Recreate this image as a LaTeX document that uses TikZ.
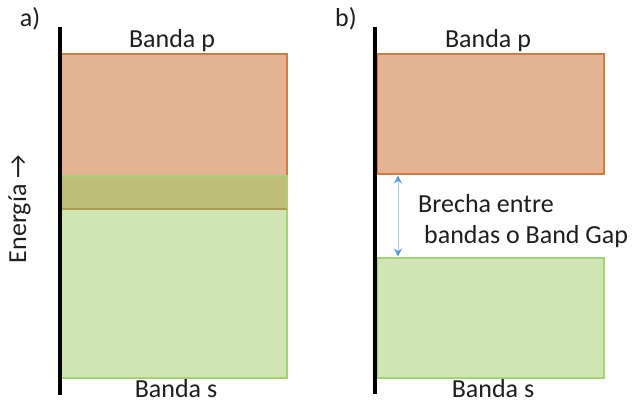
\documentclass[tikz,border=0pt]{standalone}
\usepackage{fontspec}
\setmainfont{Carlito}
\usetikzlibrary{arrows.meta,calc}
\definecolor{ofill}{HTML}{E4B394}
\definecolor{oline}{HTML}{D47A44}
\definecolor{gfill}{HTML}{CFE6B4}
\definecolor{gline}{HTML}{A3D373}
\definecolor{olive}{HTML}{BEBE78}
\definecolor{oliveline}{HTML}{B09A50}
\definecolor{gapline}{HTML}{A9CBEA}
\definecolor{gaptip}{HTML}{5B9BD5}
\definecolor{txt}{HTML}{1E1E1E}
\begin{document}
\begin{tikzpicture}[x=1pt,y=-1pt,
  lbl/.style={font=\fontsize{26}{30}\selectfont, text=txt, inner sep=0pt},
  band/.style={rectangle, inner sep=0pt, outer sep=0pt, anchor=north west, line width=1.2pt},
  pband/.style={band, fill=ofill, draw=oline},
  sband/.style={band, fill=gfill, draw=gline},
  axis/.style={line width=3.5pt, black},
  gaparrow/.style={gapline, line width=1pt, {Stealth[length=8pt,width=8pt,gaptip]}-{Stealth[length=8pt,width=8pt,gaptip]}}]
\useasboundingbox (0,0) rectangle (635,404);
% panel a
\node[pband, minimum width=226pt, minimum height=155pt] (pa) at (61,54) {};
\node[sband, minimum width=226pt, minimum height=202pt] (sa) at (61,176) {};
\node[band, fill=olive, minimum width=225pt, minimum height=32pt] (ov) at (61.5,176.5) {};
\draw[gline, line width=1.2pt] (sa.north west) -- (sa.north east);
\draw[oliveline, line width=1.6pt] (pa.south west) -- (pa.south east);
\coordinate (axa1) at (60,27);
\coordinate (axa2) at (60,395);
\draw[axis] (axa1) -- (axa2);
\node[lbl] (la) at (30,19) {a)};
\node[lbl, anchor=base] (bpa) at (172,48) {Banda p};
\node[lbl, anchor=base] (bsa) at (176,397) {Banda s};
\node[lbl, rotate=90, anchor=base] (en) at (26,209) {Energía →};
% panel b
\node[pband, minimum width=227pt, minimum height=120pt] (pb) at (377,54) {};
\node[sband, minimum width=227pt, minimum height=120pt] (sb) at (377,258) {};
\coordinate (axb1) at (375,27);
\coordinate (axb2) at (375,394);
\draw[axis] (axb1) -- (axb2);
\node[lbl] (lb) at (346,19) {b)};
\node[lbl, anchor=base] (bpb) at (488,48) {Banda p};
\node[lbl, anchor=base] (bsb) at (493,397) {Banda s};
\coordinate (gx) at (398,0);
\draw[gaparrow] ($(gx |- pb.south)+(0,1.5)$) -- ($(gx |- sb.north)+(0,-1.5)$);
\node[lbl, anchor=base west] (g1) at (418,212) {Brecha entre};
\node[lbl, anchor=base west] (g2) at (424,243) {bandas o Band Gap};
\end{tikzpicture}
\end{document}
